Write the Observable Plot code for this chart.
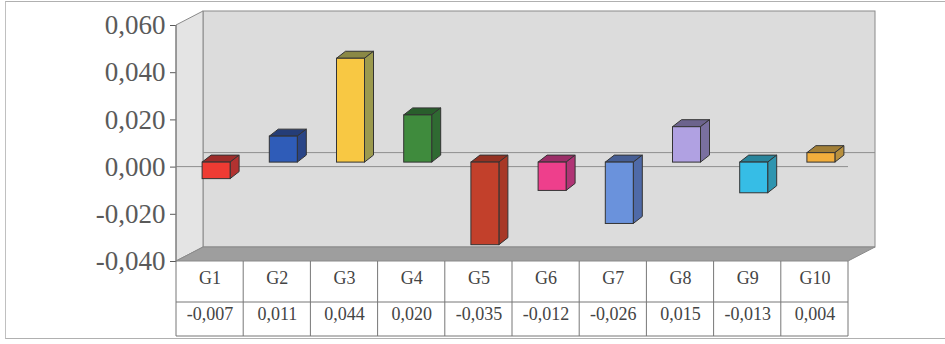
<!DOCTYPE html>
<html>
<head>
<meta charset="utf-8">
<script src="https://cdn.jsdelivr.net/npm/d3@7"></script>
<script src="https://cdn.jsdelivr.net/npm/@observablehq/plot@0.6"></script>
<style>
  html, body { margin: 0; padding: 0; background: #fff; }
  #wrap { position: relative; width: 945px; height: 344px; }
  #border { position: absolute; left: 5px; top: 1px; width: 945px; height: 336px;
            border-top: 1px solid #b0b0b0; border-left: 1px solid #c0c0c0; border-bottom: 1px solid #b0b0b0; pointer-events: none; }
</style>
</head>
<body>
<div id="wrap"><div id="border"></div></div>
<script>
// ---- data ----
const categories = ["G1", "G2", "G3", "G4", "G5", "G6", "G7", "G8", "G9", "G10"];
const values = [-0.007, 0.011, 0.044, 0.020, -0.035, -0.012, -0.026, 0.015, -0.013, 0.004];
const yTicks = [-0.04, -0.02, 0, 0.02, 0.04, 0.06];
const colors = ["#ee3b33", "#2f5cb8", "#f8c843", "#3f8b3d", "#c2402b", "#ee3f8c", "#6a92dc", "#b0a1e2", "#36bde6", "#f2ae3c"];
const sideColors = ["#b23230", "#2a4587", "#9c9a4e", "#2f6a32", "#a83826", "#b03475", "#4f6aa8", "#7a70a0", "#2f95b0", "#b8903e"];

const locale = d3.formatLocale({decimal: ",", thousands: ".", grouping: [3], currency: ["", ""], minus: "-"});
const fmt = locale.format(".3f");
const serif = "'Liberation Serif', 'DejaVu Serif', 'Times New Roman', serif";

// 3D look (pixels)
const DX = 27, DY = -14;       // wall depth
const BX = 6.5, BY = -4.5;     // bar front offset
const BW = 28;                 // bar front width
const TX = 9, TY = -7;         // bar depth

function structure(index, scales) {
  const {x, y} = scales;
  const X0 = x(0), X1 = x(10), Yt = y(0.06), Yb = y(-0.04), Y0 = y(0);
  const g = d3.create("svg:g").attr("stroke", "#8a8a8a").attr("stroke-width", 1);
  g.append("rect").attr("x", X0 + DX).attr("y", Yt + DY).attr("width", X1 - X0).attr("height", Yb - Yt)
    .attr("fill", "#dcdcdc");
  g.append("path").attr("d", `M${X0},${Yt}L${X0 + DX},${Yt + DY}L${X0 + DX},${Yb + DY}L${X0},${Yb}Z`)
    .attr("fill", "#e4e4e4");
  g.append("path").attr("d", `M${X0},${Yb}L${X0 + DX},${Yb + DY}L${X1 + DX},${Yb + DY}L${X1},${Yb}Z`)
    .attr("fill", "#9e9e9e");
  g.append("line").attr("x1", X0 + DX).attr("x2", X1 + DX).attr("y1", Y0 + DY).attr("y2", Y0 + DY).attr("stroke", "#8f8f8f");
  g.append("line").attr("x1", X0).attr("x2", X1).attr("y1", Y0).attr("y2", Y0).attr("stroke", "#8f8f8f");
  g.append("line").attr("x1", X0).attr("x2", X0).attr("y1", Yt).attr("y2", Yb).attr("stroke", "#777");
  return g.node();
}

function table(index, scales) {
  const {x, y} = scales;
  const X0 = x(0), X1 = x(10), Yb = y(-0.04);
  const g = d3.create("svg:g").attr("stroke", "#777").attr("stroke-width", 1);
  for (let k = 0; k <= categories.length; ++k) {
    g.append("line").attr("x1", x(k)).attr("x2", x(k)).attr("y1", Yb).attr("y2", Yb + 75);
  }
  g.append("line").attr("x1", X0).attr("x2", X1).attr("y1", Yb + 41).attr("y2", Yb + 41);
  g.append("line").attr("x1", X0).attr("x2", X1).attr("y1", Yb + 75).attr("y2", Yb + 75);
  return g.node();
}

function barSides(index, scales) {
  const {x, y} = scales;
  const g = d3.create("svg:g").attr("stroke", "#333").attr("stroke-width", 1).attr("stroke-linejoin", "round");
  values.forEach((v, i) => {
    const xl = x(i + 0.5) + BX - BW / 2, xr = xl + BW;
    const ya = y(Math.max(v, 0)) + BY, yb = y(Math.min(v, 0)) + BY;
    const c = d3.color(sideColors[i]);
    g.append("path").attr("d", `M${xl},${ya}L${xl + TX},${ya + TY}L${xr + TX},${ya + TY}L${xr},${ya}Z`)
      .attr("fill", c.darker(0.35).formatHex());
    g.append("path").attr("d", `M${xr},${ya}L${xr + TX},${ya + TY}L${xr + TX},${yb + TY}L${xr},${yb}Z`)
      .attr("fill", c.formatHex());
  });
  return g.node();
}

const chart = Plot.plot({
  width: 945,
  height: 344,
  marginLeft: 176,
  marginRight: 97,
  marginTop: 25,
  marginBottom: 83,
  style: {fontFamily: serif, fontSize: "27px", color: "#5a5a5a", background: "transparent"},
  x: {type: "linear", domain: [0, 10], axis: null},
  y: {domain: [-0.04, 0.06], ticks: yTicks, tickFormat: fmt, tickSize: 6, tickPadding: 5, label: null},
  marks: [
    structure,
    barSides,
    Plot.rect(values, {
      x1: (d, i) => i, x2: (d, i) => i + 1, y1: 0, y2: d => d,
      insetLeft: (67.2 - BW) / 2, insetRight: (67.2 - BW) / 2, dx: BX, dy: BY,
      fill: (d, i) => colors[i], stroke: "#333", strokeWidth: 1
    }),
    table,
    Plot.text(categories, {
      x: (d, i) => i + 0.5, frameAnchor: "bottom", dy: 22, text: d => d,
      fontSize: 18, fontFamily: serif, fill: "#444"
    }),
    Plot.text(values, {
      x: (d, i) => i + 0.5, frameAnchor: "bottom", dy: 58, text: d => fmt(d),
      fontSize: 18, fontFamily: serif, fill: "#444"
    })
  ]
});
document.getElementById("wrap").prepend(chart);
</script>
</body>
</html>
